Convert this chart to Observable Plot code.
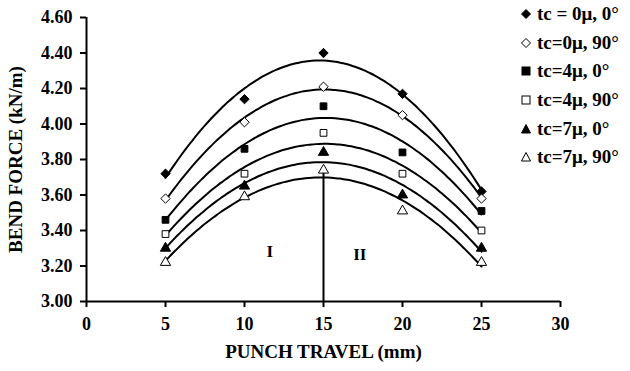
<!DOCTYPE html>
<html><head><meta charset="utf-8">
<script src="https://cdn.jsdelivr.net/npm/d3@7"></script>
<script src="https://cdn.jsdelivr.net/npm/@observablehq/plot@0.6"></script>
<style>
body{margin:0;background:#fff;}
#wrap{position:relative;width:630px;height:371px;font-family:"Liberation Serif","Times New Roman",serif;font-weight:bold;color:#000;}
#legend{position:absolute;left:520px;top:0px;}
.row{height:28.6px;display:flex;align-items:center;font-size:19px;white-space:nowrap;}
.row svg{margin-right:5px;flex:none;}
</style>
</head><body>
<div id="wrap"><div id="legend"></div></div>
<script>
// ---- data ----
const punchTravel = [5, 10, 15, 20, 25];
const seriesNames = ["tc = 0\u03bc, 0\u00b0", "tc=0\u03bc, 90\u00b0", "tc=4\u03bc, 0\u00b0", "tc=4\u03bc, 90\u00b0", "tc=7\u03bc, 0\u00b0", "tc=7\u03bc, 90\u00b0"];
const tc0_0  = [3.72, 4.14, 4.40, 4.17, 3.62];
const tc0_90 = [3.58, 4.01, 4.21, 4.05, 3.58];
const tc4_0  = [3.46, 3.86, 4.10, 3.84, 3.51];
const tc4_90 = [3.38, 3.72, 3.95, 3.72, 3.40];
const tc7_0  = [3.30, 3.65, 3.84, 3.60, 3.30];
const tc7_90 = [3.22, 3.59, 3.74, 3.51, 3.22];
const xTicks = [0, 5, 10, 15, 20, 25, 30];
const yTicks = [3.0, 3.2, 3.4, 3.6, 3.8, 4.0, 4.2, 4.4, 4.6];
const xTitle = "PUNCH TRAVEL (mm)";
const yTitle = "BEND FORCE (kN/m)";
const dividerX = 15;
const regionLabels = [{x: 11.6, y: 3.28, text: "I"}, {x: 17.3, y: 3.265, text: "II"}];

// ---- build ----
const allSeries = [tc0_0, tc0_90, tc4_0, tc4_90, tc7_0, tc7_90];
const symbols = ["diamond2", "diamond2", "square", "square", "triangle", "triangle"];
const filled = [true, false, true, false, true, false];
const points = [];
allSeries.forEach((vals, i) => vals.forEach((v, j) => points.push({x: punchTravel[j], y: v, s: i})));

// quadratic least-squares trend line for each series
function quadFit(xs, ys) {
  const n = xs.length;
  let S = [0,0,0,0,0], T = [0,0,0];
  for (let k = 0; k < n; k++) {
    const x = xs[k], y = ys[k];
    for (let p = 0; p < 5; p++) S[p] += Math.pow(x, p);
    for (let p = 0; p < 3; p++) T[p] += y * Math.pow(x, p);
  }
  const A = [[S[0],S[1],S[2],T[0]],[S[1],S[2],S[3],T[1]],[S[2],S[3],S[4],T[2]]];
  for (let i = 0; i < 3; i++) {
    for (let r = i + 1; r < 3; r++) {
      const f = A[r][i] / A[i][i];
      for (let c = i; c < 4; c++) A[r][c] -= f * A[i][c];
    }
  }
  const c = [0,0,0];
  for (let i = 2; i >= 0; i--) {
    let s = A[i][3];
    for (let j = i + 1; j < 3; j++) s -= A[i][j] * c[j];
    c[i] = s / A[i][i];
  }
  return x => c[0] + c[1]*x + c[2]*x*x;
}
const curves = [];
allSeries.forEach((vals, i) => {
  const f = quadFit(punchTravel, vals);
  for (let x = punchTravel[0]; x <= punchTravel[punchTravel.length-1] + 1e-9; x += 0.25) curves.push({x, y: f(x), s: i});
});

const dotMarks = allSeries.map((vals, i) => Plot.dot(points.filter(d => d.s === i), {
  x: "x", y: "y", symbol: () => symbols[i], r: i < 2 ? 4.2 : 3.8,
  fill: filled[i] ? "#000" : "#fff", stroke: "#000", strokeWidth: 1
}));

const chart = Plot.plot({
  width: 630, height: 371,
  marginLeft: 86, marginRight: 70, marginTop: 17, marginBottom: 70,
  style: {fontFamily: "Liberation Serif, Times New Roman, serif", fontWeight: "bold", fontSize: "16px", color: "#000", background: "#fff"},
  x: {domain: [0, 30]},
  y: {domain: [3, 4.6]},
  marks: [
    Plot.axisY({ticks: yTicks, tickFormat: d => d.toFixed(2), tickSize: 6, tickPadding: 8, strokeWidth: 2, fontSize: 18, label: null}),
    Plot.axisX({ticks: xTicks, tickFormat: d => String(d), tickSize: 6, tickPadding: 10, strokeWidth: 2, fontSize: 18, label: null}),
    Plot.ruleX([0], {strokeWidth: 2}),
    Plot.ruleY([3], {strokeWidth: 2}),
    Plot.ruleX([dividerX], {y1: 3, y2: tc7_90[punchTravel.indexOf(dividerX)], strokeWidth: 2}),
    Plot.line(curves, {x: "x", y: "y", z: "s", stroke: "#000", strokeWidth: 2, curve: "natural"}),
    ...dotMarks,
    Plot.text(regionLabels, {x: "x", y: "y", text: "text", fontSize: 17}),
    Plot.text([yTitle], {frameAnchor: "left", textAnchor: "middle", rotate: -90, dx: -71, fontSize: 19}),
    Plot.text([xTitle], {frameAnchor: "bottom", dy: 56, fontSize: 19})
  ]
});
document.getElementById("wrap").prepend(chart);
chart.style.position = "absolute"; chart.style.left = "0"; chart.style.top = "0";

// legend
const legend = document.getElementById("legend");
const shapes = [
  f => `<polygon points="6,1.5 10.5,6 6,10.5 1.5,6" fill="${f}" stroke="#000" stroke-width="1"/>`,
  f => `<polygon points="6,1.5 10.5,6 6,10.5 1.5,6" fill="${f}" stroke="#000" stroke-width="1"/>`,
  f => `<rect x="2" y="2" width="8" height="8" fill="${f}" stroke="#000" stroke-width="1"/>`,
  f => `<rect x="2" y="2" width="8" height="8" fill="${f}" stroke="#000" stroke-width="1"/>`,
  f => `<polygon points="6,1.5 10.5,10 1.5,10" fill="${f}" stroke="#000" stroke-width="1"/>`,
  f => `<polygon points="6,1.5 10.5,10 1.5,10" fill="${f}" stroke="#000" stroke-width="1"/>`
];
seriesNames.forEach((name, i) => {
  const row = document.createElement("div");
  row.className = "row";
  row.innerHTML = `<svg width="12" height="12">${shapes[i](filled[i] ? "#000" : "#fff")}</svg><span>${name}</span>`;
  legend.appendChild(row);
});
</script>
</body></html>
